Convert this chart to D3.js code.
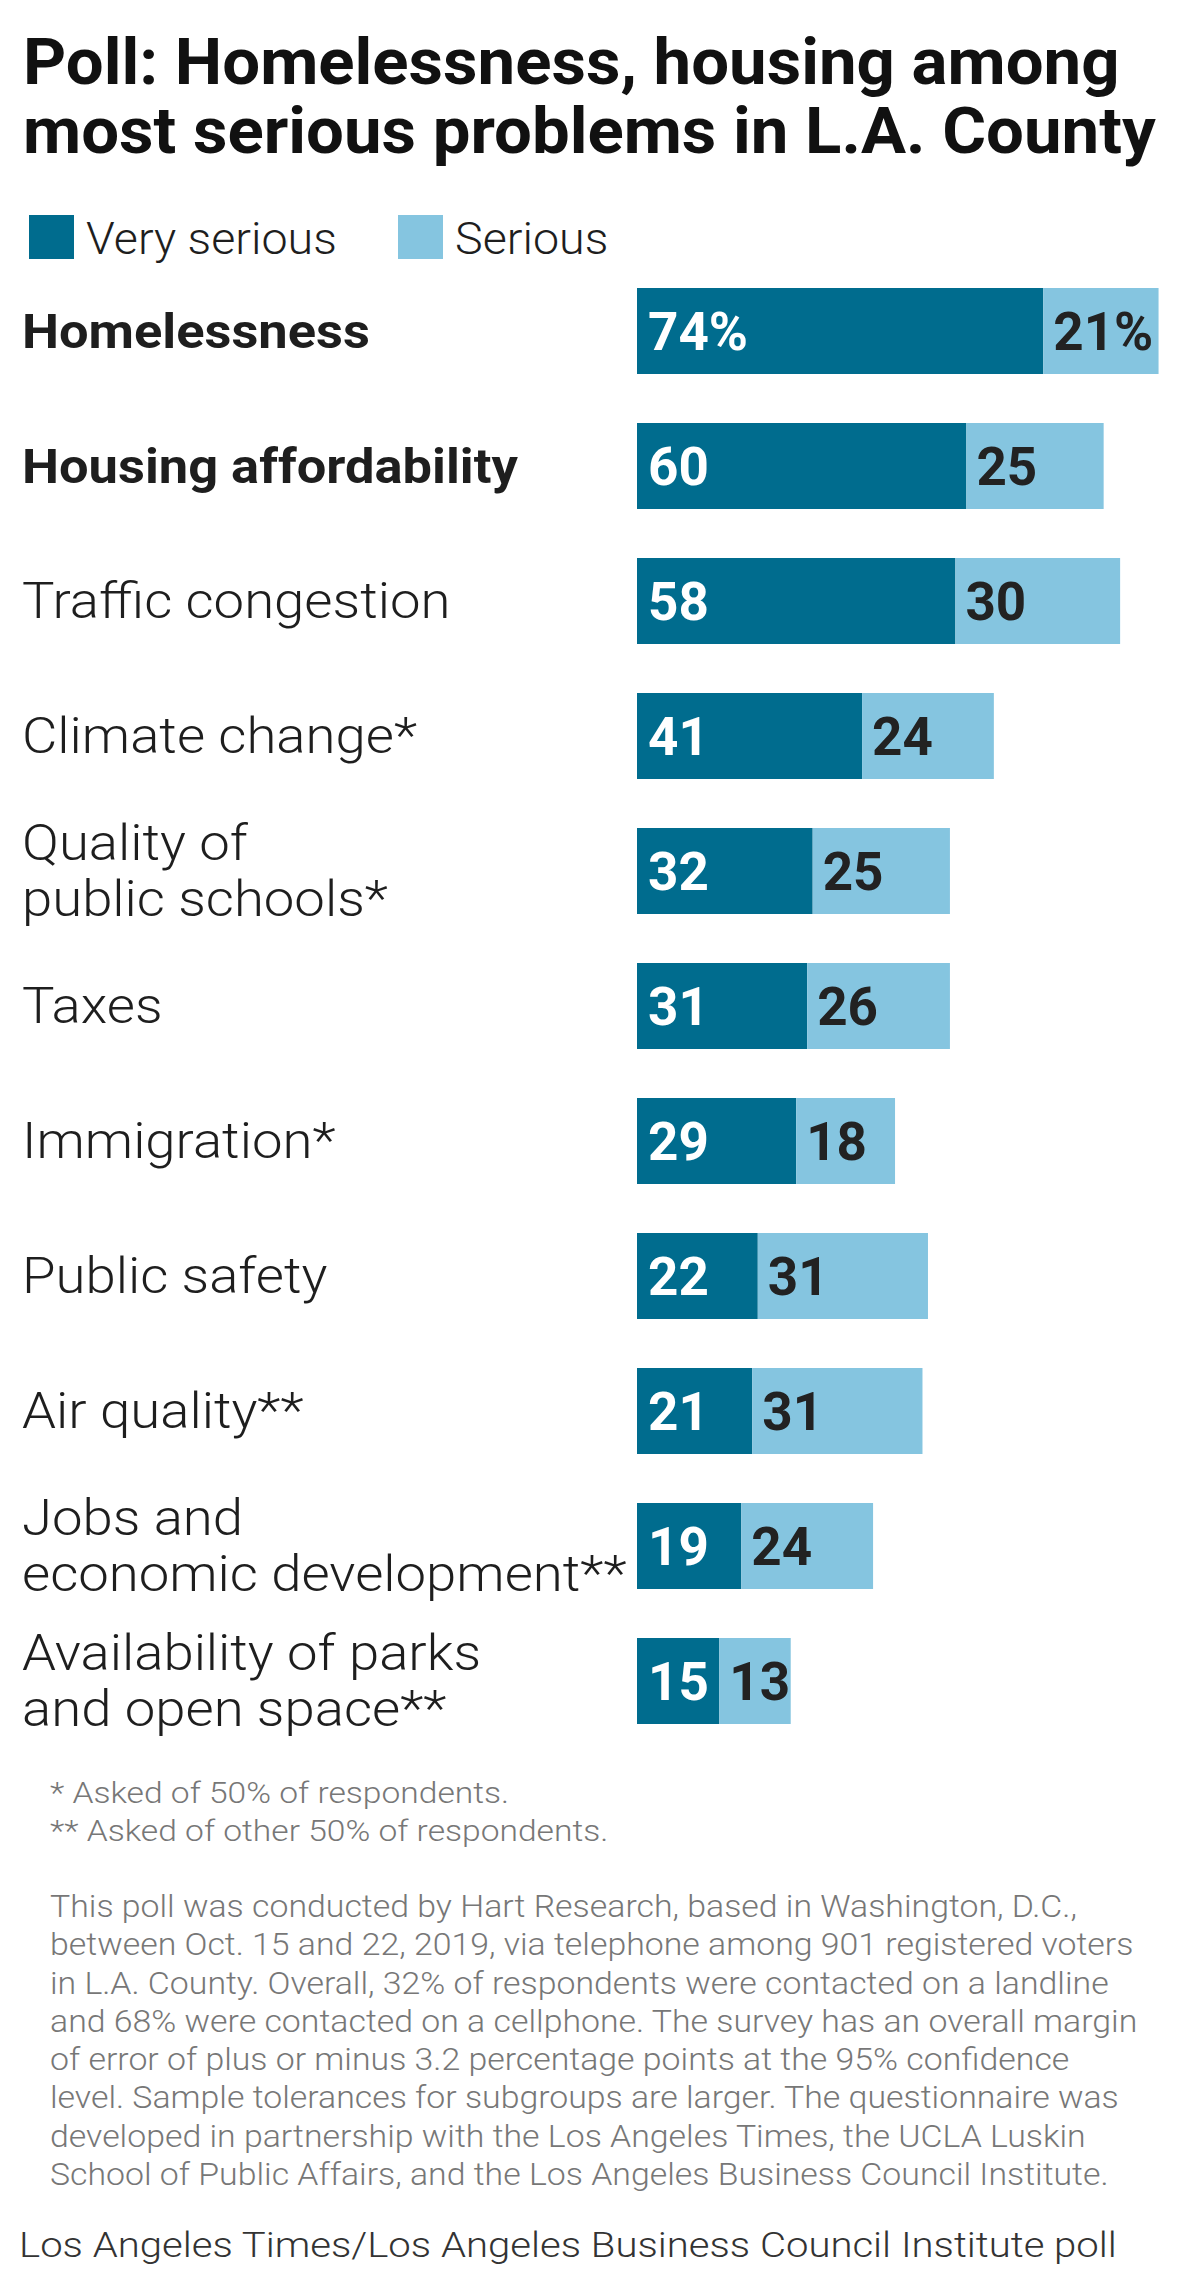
<!DOCTYPE html>
<html>
<head>
<meta charset="utf-8">
<script src="https://cdn.jsdelivr.net/npm/d3@7"></script>
<style>
  html, body { margin: 0; padding: 0; background: #fff; }
  svg { display: block; }
</style>
</head>
<body>
<svg id="chart" width="1200" height="2293"></svg>
<script>
// ---------- DATA ----------
const titleLines = ["Poll: Homelessness, housing among", "most serious problems in L.A. County"];
const seriesNames = ["Very serious", "Serious"];
const categories = [
  "Homelessness",
  "Housing affordability",
  "Traffic congestion",
  "Climate change*",
  "Quality of|public schools*",
  "Taxes",
  "Immigration*",
  "Public safety",
  "Air quality**",
  "Jobs and|economic development**",
  "Availability of parks|and open space**"
];
const boldCategories = ["Homelessness", "Housing affordability"];
const verySerious = [74, 60, 58, 41, 32, 31, 29, 22, 21, 19, 15];
const serious     = [21, 25, 30, 24, 25, 26, 18, 31, 31, 24, 13];
const footnotes = ["* Asked of 50% of respondents.", "** Asked of other 50% of respondents."];
const methodology = [
  "This poll was conducted by Hart Research, based in Washington, D.C.,",
  "between Oct. 15 and 22, 2019, via telephone among 901 registered voters",
  "in L.A. County. Overall, 32% of respondents were contacted on a landline",
  "and 68% were contacted on a cellphone. The survey has an overall margin",
  "of error of plus or minus 3.2 percentage points at the 95% confidence",
  "level. Sample tolerances for subgroups are larger. The questionnaire was",
  "developed in partnership with the Los Angeles Times, the UCLA Luskin",
  "School of Public Affairs, and the Los Angeles Business Council Institute."
];
const sourceText = "Los Angeles Times/Los Angeles Business Council Institute poll";

// ---------- STYLE ----------
const colors = { very: "#006c8e", serious: "#85c5e0", text: "#1e1e1e", gray: "#777" };
const FONT = "Roboto, 'Open Sans', sans-serif";

const svg = d3.select("#chart");

function stretch(sel, x0, k) {
  sel.attr("transform", `translate(${x0},0) scale(${k},1) translate(${-x0},0)`);
}
// squeeze a group horizontally so its widest text fits maxW
function fitGroup(g, x0, maxW) {
  let w = 0;
  g.selectAll("text").each(function() { w = Math.max(w, this.getComputedTextLength()); });
  stretch(g, x0, w > 0 ? maxW / w : 1);
}

// ---------- TITLE ----------
const tg = svg.append("g");
tg.selectAll("text").data(titleLines).join("text")
  .attr("x", 23).attr("y", (d, i) => 84 + i * 69)
  .attr("font-family", FONT).attr("font-weight", 700).attr("font-size", 64)
  .attr("fill", "#111").text(d => d);
fitGroup(tg, 23, 1133);

// ---------- LEGEND ----------
const legendX = [29, 398];
const lg = svg.append("g");
seriesNames.forEach((name, i) => {
  lg.append("rect").attr("x", legendX[i]).attr("y", 215).attr("width", 45).attr("height", 44)
    .attr("fill", i === 0 ? colors.very : colors.serious);
  const t = lg.append("text").attr("x", legendX[i] + 57).attr("y", 254)
    .attr("font-family", FONT).attr("font-weight", 300).attr("font-size", 44)
    .attr("fill", colors.text).text(name);
  stretch(t, legendX[i] + 57, 1.06);
});

// ---------- SCALES ----------
const x = d3.scaleLinear().domain([0, 100]).range([637, 1186]);
const y = d3.scaleBand().domain(categories).range([288, 1724]).paddingInner(0.363).paddingOuter(0);

const rows = categories.map((c, i) => ({ cat: c, v: verySerious[i], s: serious[i], i }));

// ---------- BARS ----------
const bars = svg.append("g");
bars.selectAll("rect.very").data(rows).join("rect").attr("class", "very")
  .attr("x", x(0)).attr("y", d => y(d.cat))
  .attr("width", d => x(d.v) - x(0)).attr("height", y.bandwidth())
  .attr("fill", colors.very);
bars.selectAll("rect.ser").data(rows).join("rect").attr("class", "ser")
  .attr("x", d => x(d.v)).attr("y", d => y(d.cat))
  .attr("width", d => x(d.v + d.s) - x(d.v)).attr("height", y.bandwidth())
  .attr("fill", colors.serious);

// value labels
const mid = d => y(d.cat) + y.bandwidth() / 2;
bars.selectAll("text.vl").data(rows).join("text").attr("class", "vl")
  .attr("x", x(0) + 11).attr("y", d => mid(d) + 19)
  .attr("font-family", FONT).attr("font-weight", 700).attr("font-size", 53)
  .attr("fill", "#fff").text(d => d.v + (d.i === 0 ? "%" : ""));
bars.selectAll("text.sl").data(rows).join("text").attr("class", "sl")
  .attr("x", d => x(d.v) + 10).attr("y", d => mid(d) + 19)
  .attr("font-family", FONT).attr("font-weight", 700).attr("font-size", 53)
  .attr("fill", "#222").text(d => d.s + (d.i === 0 ? "%" : ""));

// ---------- CATEGORY LABELS ----------
const labs = svg.append("g");
rows.forEach(d => {
  const lines = d.cat.split("|");
  const isBold = boldCategories.includes(d.cat);
  const lh = 56;
  const base = mid(d) + 17 - (lines.length - 1) * lh / 2;
  const t = labs.append("text")
    .attr("font-family", FONT).attr("font-weight", isBold ? 700 : 300)
    .attr("font-size", isBold ? 49 : 50).attr("fill", colors.text);
  lines.forEach((ln, j) => {
    t.append("tspan").attr("x", 22).attr("y", base + j * lh).text(ln);
  });
  stretch(t, 22, isBold ? 1.07 : 1.09);
});

// ---------- FOOTNOTES ----------
const fg = svg.append("g");
fg.selectAll("text").data(footnotes).join("text")
  .attr("x", 50).attr("y", (d, i) => 1803 + i * 38)
  .attr("font-family", FONT).attr("font-weight", 300).attr("font-size", 30)
  .attr("fill", colors.gray).text(d => d);
stretch(fg, 50, 1.12);

// ---------- METHODOLOGY ----------
const mg = svg.append("g");
mg.selectAll("text").data(methodology).join("text")
  .attr("x", 50).attr("y", (d, i) => 1917 + i * 38.3)
  .attr("font-family", FONT).attr("font-weight", 300).attr("font-size", 31)
  .attr("fill", colors.gray).text(d => d);
fitGroup(mg, 50, 1088);

// ---------- SOURCE ----------
const sg = svg.append("g");
sg.append("text").attr("x", 19).attr("y", 2257)
  .attr("font-family", FONT).attr("font-weight", 300).attr("font-size", 35)
  .attr("fill", "#333").text(sourceText);
fitGroup(sg, 19, 1098);
</script>
</body>
</html>
